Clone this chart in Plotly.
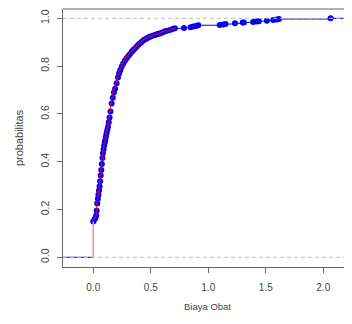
import plotly.graph_objects as go

# ECDF of "Biaya Obat": sorted values and cumulative probabilities
biaya = [0.000, 0.010, 0.020, 0.026, 0.030, 0.035, 0.040, 0.045, 0.050, 0.055,
         0.060, 0.065, 0.070, 0.075, 0.080, 0.084, 0.090, 0.095, 0.100, 0.105,
         0.110, 0.116, 0.122, 0.128, 0.135, 0.142, 0.150, 0.160, 0.170, 0.180,
         0.190, 0.203, 0.215, 0.225, 0.235, 0.247, 0.260, 0.275, 0.290, 0.305,
         0.320, 0.335, 0.348, 0.362, 0.378, 0.392, 0.406, 0.420, 0.435, 0.450,
         0.465, 0.480, 0.493, 0.510, 0.530, 0.550, 0.565, 0.580, 0.600, 0.620,
         0.640, 0.667, 0.690, 0.710, 0.789, 0.847, 0.870, 0.893, 0.913, 1.100,
         1.130, 1.150, 1.232, 1.300, 1.310, 1.390, 1.420, 1.440, 1.510, 1.565,
         1.595, 1.615, 2.064]
prob = [0.150, 0.158, 0.166, 0.175, 0.195, 0.225, 0.245, 0.262, 0.280, 0.297,
        0.318, 0.342, 0.365, 0.390, 0.415, 0.435, 0.452, 0.468, 0.480, 0.491,
        0.505, 0.519, 0.533, 0.546, 0.565, 0.585, 0.610, 0.644, 0.668, 0.690,
        0.705, 0.728, 0.752, 0.770, 0.783, 0.797, 0.810, 0.822, 0.833, 0.842,
        0.851, 0.860, 0.867, 0.874, 0.882, 0.889, 0.895, 0.901, 0.907, 0.912,
        0.916, 0.920, 0.923, 0.926, 0.929, 0.932, 0.935, 0.937, 0.941, 0.945,
        0.948, 0.951, 0.955, 0.958, 0.960, 0.963, 0.966, 0.968, 0.971, 0.972,
        0.974, 0.976, 0.979, 0.982, 0.983, 0.985, 0.987, 0.988, 0.990, 0.993,
        0.995, 0.997, 1.000]

x_ticks = [0.0, 0.5, 1.0, 1.5, 2.0]
x_tick_text = ["0.0", "0.5", "1.0", "1.5", "2.0"]
y_ticks = [0.0, 0.2, 0.4, 0.6, 0.8, 1.0]
y_tick_text = ["0.0", "0.2", "0.4", "0.6", "0.8", "1.0"]

X_RANGE = [-0.263, 2.25]
Y_RANGE = [-0.0406, 1.039]
DENSE_END = 0.72  # where the observations stop being packed together

# horizontal segments (blue), including the -inf / +inf extensions
hx, hy = [X_RANGE[0], biaya[0], None], [0, 0, None]
for i in range(len(biaya)):
    right = biaya[i + 1] if i + 1 < len(biaya) else X_RANGE[1]
    hx += [biaya[i], right, None]
    hy += [prob[i], prob[i], None]

# vertical jump segments (red): a packed run in the dense part, isolated in the tail
dense_x = [v for v in biaya if v <= DENSE_END]
dense_p = prob[:len(dense_x)]
vx, vy = [], []
prev = dense_p[-1]
for xv, pv in zip(biaya[len(dense_x):], prob[len(dense_x):]):
    vx += [xv, xv, None]
    vy += [prev, pv, None]
    prev = pv

fig = go.Figure()
fig.add_trace(go.Scatter(x=hx, y=hy, mode="lines",
                         line=dict(color="#0000ff", width=1), hoverinfo="skip"))
fig.add_trace(go.Scatter(x=biaya, y=prob, mode="markers",
                         marker=dict(color="#0000ff", size=6, line=dict(width=0))))
# first jump (from 0 at the smallest value)
fig.add_trace(go.Scatter(x=[biaya[0], biaya[0]], y=[0, prob[0]], mode="lines",
                         line=dict(color="#ff9090", width=1.5), hoverinfo="skip"))
fig.add_trace(go.Scatter(x=dense_x, y=dense_p, mode="lines", line_shape="vh",
                         line=dict(color="rgba(230,0,40,0.85)", width=1.1), hoverinfo="skip"))
fig.add_trace(go.Scatter(x=vx, y=vy, mode="lines",
                         line=dict(color="rgba(255,40,40,0.75)", width=1.1), hoverinfo="skip"))
# gray dashed 0/1 reference lines drawn on top
for h in [0.0, 1.0]:
    fig.add_trace(go.Scatter(x=X_RANGE, y=[h, h], mode="lines",
                             line=dict(color="#bdbdbd", width=1, dash="4px,3px"),
                             hoverinfo="skip"))

axis_font = dict(family="Liberation Sans, Arial, sans-serif", size=10, color="#444")
fig.update_layout(
    width=344, height=316,
    margin=dict(l=55, r=0, t=1, b=57),
    paper_bgcolor="white", plot_bgcolor="white",
    showlegend=False,
    xaxis=dict(range=X_RANGE, tickvals=x_ticks, ticktext=x_tick_text,
               showgrid=False, zeroline=False, showline=True, linecolor="#666",
               linewidth=1, ticks="outside", ticklen=5, tickcolor="#666",
               tickfont=axis_font, ticklabelstandoff=6, automargin=False),
    yaxis=dict(range=Y_RANGE, tickvals=y_ticks, ticktext=y_tick_text,
               showgrid=False, zeroline=False, showline=True, linecolor="#666",
               linewidth=1, ticks="outside", ticklen=5, tickcolor="#666",
               tickangle=-90, tickfont=dict(axis_font, size=10.5),
               ticklabelstandoff=4, automargin=False),
    shapes=[dict(type="line", xref="paper", yref="paper", x0=0, x1=1, y0=1, y1=1,
                 line=dict(color="#666", width=1))],
    annotations=[
        dict(text="Biaya Obat", xref="paper", yref="paper", x=0.5, y=-0.152,
             xanchor="center", yanchor="middle", showarrow=False,
             font=dict(family="Liberation Sans, Arial, sans-serif", size=9.5, color="#444")),
        dict(text="probabilitas", xref="paper", yref="paper", x=-0.152, y=0.5,
             xanchor="center", yanchor="middle", showarrow=False, textangle=-90,
             font=dict(family="Liberation Sans, Arial, sans-serif", size=11, color="#444")),
    ],
)

fig.write_html("out.html")
